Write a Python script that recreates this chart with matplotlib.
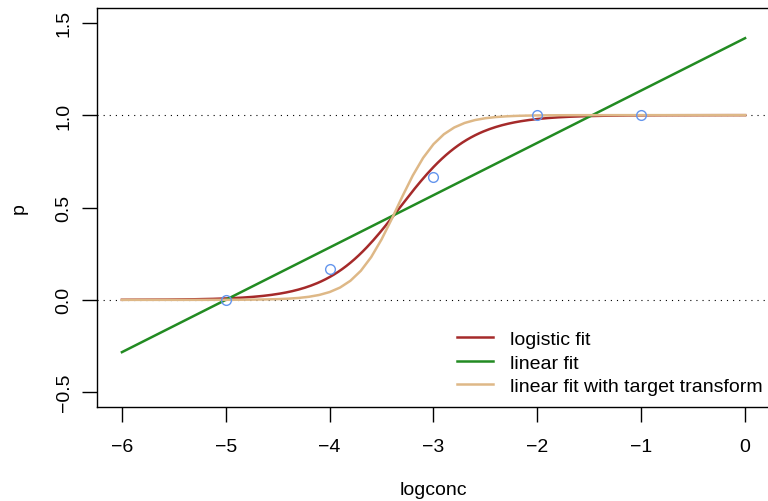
import numpy as np
import matplotlib
matplotlib.use("Agg")
from matplotlib import pyplot as plt

plt.rcParams['font.family'] = ['Liberation Sans', 'DejaVu Sans']

# observed proportions
logconc = [-5, -4, -3, -2, -1]
p_obs = [0.0, 1/6, 4/6, 1.0, 1.0]

# fitted coefficients (intercept, slope)
logistic_coef = (9.64, 2.9)
linear_coef = (1.4167, 0.2833)
transform_coef = (16.08, 4.8)

x_grid = np.linspace(-6, 0, 61)
x_fine = np.linspace(-6, 0, 301)

def inv_logit(eta):
    return 1 / (1 + np.exp(-eta))

fig = plt.figure(figsize=(7.68, 5.02), dpi=100)
ax = fig.add_axes([97/768, 1 - 408/502, 673/768, 399/502])

ax.axhline(0, color='black', ls=(0, (1, 4.5)), lw=0.8)
ax.axhline(1, color='black', ls=(0, (1, 4.5)), lw=0.8)

ax.plot(logconc, p_obs, 'o', mfc='none', mec='#6495ED', ms=7, mew=1.0, zorder=5)

ax.plot(x_fine, inv_logit(logistic_coef[0] + logistic_coef[1]*x_fine),
        color='#A52A2A', lw=1.8, label='logistic fit')
ax.plot([-6, 0], [linear_coef[0] + linear_coef[1]*-6, linear_coef[0]],
        color='#228B22', lw=1.8, label='linear fit')
ax.plot(x_grid, inv_logit(transform_coef[0] + transform_coef[1]*x_grid),
        color='#DEB887', lw=1.8, label='linear fit with target transform')

ax.set_xlim(-6.24, 0.24)
ax.set_ylim(-0.58, 1.58)
ax.set_xticks([-6, -5, -4, -3, -2, -1, 0])
ax.set_xticklabels(['\u22126', '\u22125', '\u22124', '\u22123', '\u22122', '\u22121', '0'])
ax.set_yticks([-0.5, 0.0, 0.5, 1.0, 1.5])
ax.set_yticklabels(['\u22120.5', '0.0', '0.5', '1.0', '1.5'], rotation=90, va='center')
ax.tick_params(direction='out', length=11, width=1, labelsize=14, pad=11.5)
ax.tick_params(axis='y', pad=6.5)
for s in ax.spines.values():
    s.set_linewidth(1)

ax.set_xlabel('logconc', fontsize=14, labelpad=18.5)
ax.set_ylabel('p', fontsize=14, labelpad=20)

ax.legend(loc='lower left', bbox_to_anchor=(457/768, 1 - 396/502),
          bbox_transform=fig.transFigure, frameon=False, fontsize=14,
          handlelength=1.85, handletextpad=0.88, labelspacing=0.3,
          borderpad=0, borderaxespad=0)

fig.savefig('out.png', dpi=100)
